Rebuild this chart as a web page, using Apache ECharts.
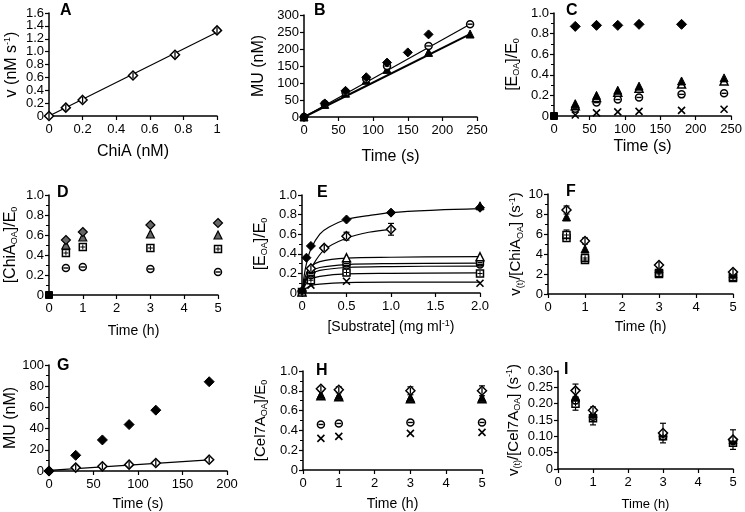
<!DOCTYPE html>
<html><head><meta charset="utf-8">
<script src="https://cdn.jsdelivr.net/npm/echarts@6/dist/echarts.min.js"></script>
<style>html,body{margin:0;padding:0;background:#fff}#c{width:745px;height:512px}</style>
</head><body><div id="c"></div>
<script>
// ---- Panel A ----
const A_x = [0, 0.1, 0.2, 0.5, 0.75, 1];
const A_v = [0, 0.13, 0.25, 0.63, 0.95, 1.33];
const A_err = [0, 0.02, 0.02, 0.03, 0.03, 0.03];
const A_fitX = [0, 1];
const A_fitY = [0, 1.3];
// ---- Panel B ----
const B_t1 = [0, 30, 60, 90, 120, 150, 180];
const B_diamond = [0, 40, 77, 117, 160, 190, 243];
const B_t2 = [0, 30, 60, 90, 120, 180, 240];
const B_circle = [0, 38, 73, 112, 150, 209, 273];
const B_tri = [0, 37, 70, 108, 140, 190, 244];
const B_fitX = [0, 240];
const B_fitCircle = [0, 273];
const B_fitTri = [0, 244];
// ---- Panel C ----
const C_t1 = [30, 60, 90, 120, 180];
const C_diamond = [0.87, 0.88, 0.88, 0.89, 0.89];
const C_t2 = [30, 60, 90, 120, 180, 240];
const C_triF = [0.12, 0.20, 0.25, 0.29, 0.34, 0.37];
const C_triO = [0.10, 0.18, 0.23, 0.27, 0.31, 0.34];
const C_circle = [0.07, 0.13, 0.16, 0.18, 0.21, 0.22];
const C_cross = [0.01, 0.03, 0.04, 0.045, 0.055, 0.065];
const C_origin = [0];
// ---- Panel D ----
const D_t = [0.5, 1, 3, 5];
const D_diamond = [0.55, 0.63, 0.70, 0.72];
const D_tri = [0.50, 0.58, 0.61, 0.60];
const D_square = [0.42, 0.48, 0.47, 0.46];
const D_circle = [0.27, 0.28, 0.26, 0.23];
// ---- Panel E ----
const E_fdX = [0, 0.05, 0.1, 0.5, 1.0, 2.0];
const E_fd = [0.02, 0.36, 0.48, 0.75, 0.82, 0.87];
const E_ftX = [2.0];
const E_ft = [0.89];
const E_odX = [0.1, 0.25, 0.5, 1.0];
const E_od = [0.25, 0.46, 0.58, 0.65];
const E_odErr = [0.02, 0.02, 0.04, 0.06];
const E_lowX = [0, 0.1, 0.5, 2.0];
const E_tri = [0.01, 0.25, 0.36, 0.37];
const E_circle = [0.01, 0.20, 0.30, 0.31];
const E_circle2 = [0.01, 0.18, 0.28, 0.29];
const E_square = [0.01, 0.13, 0.21, 0.20];
const E_cross = [0.01, 0.08, 0.12, 0.10];
const E_fitTopX = [0, 0.025, 0.05, 0.1, 0.2, 0.3, 0.5, 0.75, 1.0, 1.5, 2.0];
const E_fitTop = [0, 0.18, 0.30, 0.45, 0.60, 0.67, 0.75, 0.79, 0.82, 0.845, 0.86];
const E_fitOdX = [0, 0.05, 0.1, 0.25, 0.5, 0.75, 1.0];
const E_fitOd = [0, 0.14, 0.25, 0.44, 0.56, 0.62, 0.65];
const E_fitLowX = [0, 0.025, 0.05, 0.1, 0.2, 0.5, 1.0, 2.0];
const E_fitL1 = [0, 0.12, 0.20, 0.27, 0.32, 0.355, 0.365, 0.372];
const E_fitL2 = [0, 0.10, 0.16, 0.22, 0.26, 0.29, 0.30, 0.305];
const E_fitL3 = [0, 0.09, 0.14, 0.19, 0.23, 0.26, 0.27, 0.275];
const E_fitL4 = [0, 0.06, 0.10, 0.14, 0.17, 0.195, 0.20, 0.205];
const E_fitL5 = [0, 0.03, 0.05, 0.075, 0.09, 0.105, 0.11, 0.11];
// ---- Panel F ----
const F_t = [0.5, 1, 3, 5];
const F_diamond = [8.4, 5.3, 2.9, 2.2];
const F_diamondErr = [0.4, 0.3, 0.2, 0.2];
const F_tri = [7.7, 4.5, 2.5, 2.0];
const F_square = [5.9, 3.6, 2.1, 1.7];
const F_squareErr = [0.5, 0.2, 0.2, 0.2];
const F_circle = [5.6, 3.4, 2.0, 1.6];
// ---- Panel G ----
const G_tF = [0, 30, 60, 90, 120, 180];
const G_filled = [0, 14.8, 29.3, 43.8, 57.4, 84.2];
const G_tO = [0, 30, 60, 90, 120, 180];
const G_open = [0, 3.2, 4.4, 6.0, 7.6, 10.7];
const G_fitX = [0, 180];
const G_fitY = [0.5, 10.5];
// ---- Panel H ----
const H_t = [0.5, 1, 3, 5];
const H_diamond = [0.82, 0.81, 0.80, 0.80];
const H_diamondErr = [0.02, 0.03, 0.04, 0.05];
const H_triF = [0.76, 0.75, 0.73, 0.73];
const H_triO = [0.75, 0.74, 0.72, 0.72];
const H_circle = [0.46, 0.47, 0.48, 0.48];
const H_cross = [0.32, 0.34, 0.37, 0.38];
// ---- Panel I ----
const I_t = [0.5, 1, 3, 5];
const I_diamond = [0.24, 0.18, 0.11, 0.09];
const I_diamondErr = [0.02, 0.01, 0.03, 0.03];
const I_tri = [0.22, 0.17, 0.11, 0.09];
const I_circle = [0.21, 0.16, 0.10, 0.085];
const I_square = [0.20, 0.155, 0.10, 0.08];
const I_squareErr = [0.02, 0.02, 0.01, 0.01];

const FONT = 'Liberation Sans, Arial, sans-serif';
const zip = (xs, ys) => xs.map((x, i) => [x, ys[i]]);
const zip3 = (xs, ys, es) => xs.map((x, i) => [x, ys[i], es[i]]);

const grids = [
  {left: 49, top: 13, width: 168, height: 103},   // A
  {left: 304, top: 15, width: 173, height: 102},  // B
  {left: 554, top: 13, width: 178, height: 103},  // C
  {left: 49, top: 195, width: 169, height: 100},  // D
  {left: 302, top: 195, width: 178, height: 98},  // E
  {left: 548, top: 194, width: 185, height: 100}, // F
  {left: 49, top: 365, width: 178, height: 106},  // G
  {left: 303, top: 371, width: 179, height: 99},  // H
  {left: 558, top: 371, width: 175, height: 98}   // I
];

const rich = {
  n: {fontSize: 15, fontFamily: FONT, color: '#000'},
  sub: {fontSize: 9, fontFamily: FONT, color: '#000', verticalAlign: 'bottom', padding: [8, 0, 0, 0]},
  sup: {fontSize: 9, fontFamily: FONT, color: '#000', verticalAlign: 'top', padding: [0, 0, 8, 0]}
};
const f1 = v => v === 0 ? '0' : v.toFixed(1);
const f2 = v => v === 0 ? '0' : v.toFixed(2);
const fd = v => String(v);

function xAx(i, min, max, interval, name, gap, fmt, nameSize, labelSize) {
  return {
    type: 'value', gridIndex: i, min, max, interval,
    name, nameLocation: 'middle', nameGap: gap,
    nameTextStyle: {fontSize: nameSize, fontFamily: FONT, color: '#000', rich: Object.assign({}, rich, {n: {fontSize: nameSize, fontFamily: FONT, color: '#000'}})},
    axisLine: {show: true, onZero: false, lineStyle: {color: '#000', width: 1.5}},
    axisTick: {show: true, length: 4, lineStyle: {color: '#000', width: 1.2}},
    axisLabel: {color: '#000', fontSize: labelSize, fontFamily: FONT, margin: 7, formatter: fmt},
    splitLine: {show: false}
  };
}
function yAx(i, min, max, interval, name, gap, fmt, minorN, nameSize, labelSize) {
  return {
    type: 'value', gridIndex: i, min, max, interval,
    name, nameLocation: 'middle', nameGap: gap, nameRotate: 90,
    nameTextStyle: {fontSize: nameSize, fontFamily: FONT, color: '#000', rich: Object.assign({}, rich, {n: {fontSize: nameSize, fontFamily: FONT, color: '#000'}})},
    axisLine: {show: true, onZero: false, lineStyle: {color: '#000', width: 1.5}},
    axisTick: {show: true, length: 4, lineStyle: {color: '#000', width: 1.2}},
    minorTick: {show: minorN > 0, splitNumber: minorN || 2, length: 3, lineStyle: {color: '#000', width: 1}},
    axisLabel: {color: '#000', fontSize: labelSize, fontFamily: FONT, margin: 5, formatter: fmt},
    splitLine: {show: false}
  };
}

const xAxes = [
  xAx(0, 0, 1, 0.2, '{n|ChiA (nM)}', 28, fd, 16, 13),
  xAx(1, 0, 250, 50, '{n|Time (s)}', 32, fd, 16, 13),
  xAx(2, 0, 250, 50, '{n|Time (s)}', 23, fd, 16, 13),
  xAx(3, 0, 5, 1, '{n|Time (h)}', 29, fd, 14, 13),
  xAx(4, 0, 2, 0.5, '{n|[Substrate] (mg ml}{sup|-1}{n|)}', 26, f1, 14, 13),
  xAx(5, 0, 5, 1, '{n|Time (h)}', 26, fd, 14, 13),
  xAx(6, 0, 200, 50, '{n|Time (s)}', 26, fd, 14, 13),
  xAx(7, 0, 5, 1, '{n|Time (h)}', 27, fd, 14, 13),
  xAx(8, 0, 5, 1, '{n|Time (h)}', 29, fd, 13, 13)
];
const yAxes = [
  yAx(0, 0, 1.6, 0.2, '{n|v (nM s}{sup|-1}{n|)}', 29, f1, 0, 16, 13),
  yAx(1, 0, 300, 50, '{n|MU (nM)}', 37, fd, 0, 16, 13),
  yAx(2, 0, 1, 0.2, '{n|[E}{sub|OA}{n|]/E}{sub|0}', 33, f1, 2, 16, 13),
  yAx(3, 0, 1, 0.2, '{n|[ChiA}{sub|OA}{n|]/E}{sub|0}', 30, f1, 2, 16, 13),
  yAx(4, 0, 1, 0.2, '{n|[E}{sub|OA}{n|]/E}{sub|0}', 33, f1, 2, 16, 13),
  yAx(5, 0, 10, 2, '{n|v}{sub|(t)}{n|/[ChiA}{sub|OA}{n|] (s}{sup|-1}{n|)}', 21, fd, 2, 15, 13),
  yAx(6, 0, 100, 20, '{n|MU (nM)}', 29, fd, 2, 16, 13),
  yAx(7, 0, 1, 0.2, '{n|[Cel7A}{sub|OA}{n|]/E}{sub|0}', 34, f1, 2, 15, 13),
  yAx(8, 0, 0.3, 0.05, '{n|v}{sub|(t)}{n|/[Cel7A}{sub|OA}{n|] (s}{sup|-1}{n|)}', 36, f2, 0, 15, 13)
];

// marker definitions
const CROSS = 'path://M0,0L10,10M10,0L0,10';
const BAR = 'path://M0,0L10,0L10,2L0,2Z';
const PLUS = 'path://M4,0L6,0L6,4L10,4L10,6L6,6L6,10L4,10L4,6L0,6L0,4L4,4Z';
const series = [];
function pts(g, xs, ys, kind, size) {
  size = size || 8;
  const data = zip(xs, ys);
  const base = {type: 'scatter', xAxisIndex: g, yAxisIndex: g, data, symbolSize: size, z: 3, silent: true};
  const filled = {color: '#000', borderColor: '#000', borderWidth: 1, opacity: 1};
  const open = {color: '#fff', borderColor: '#000', borderWidth: 1.5, opacity: 1};
  const grey = {color: '#666', borderColor: '#000', borderWidth: 1.2, opacity: 1};
  const blk = {color: '#000', opacity: 1};
  if (kind === 'fd') series.push(Object.assign({}, base, {symbol: 'diamond', symbolSize: size + 1, itemStyle: filled}));
  if (kind === 'gd') series.push(Object.assign({}, base, {symbol: 'diamond', symbolSize: size + 1, itemStyle: grey}));
  if (kind === 'od') {
    series.push(Object.assign({}, base, {symbol: 'diamond', symbolSize: size + 1, itemStyle: open}));
    series.push(Object.assign({}, base, {symbol: BAR, symbolSize: [1.3, size - 2], z: 4, itemStyle: blk}));
  }
  if (kind === 'ft') series.push(Object.assign({}, base, {symbol: 'triangle', itemStyle: filled}));
  if (kind === 'gt') series.push(Object.assign({}, base, {symbol: 'triangle', itemStyle: grey}));
  if (kind === 'ot') series.push(Object.assign({}, base, {symbol: 'triangle', itemStyle: open}));
  if (kind === 'oc') {
    series.push(Object.assign({}, base, {symbol: 'circle', symbolSize: size - 1, itemStyle: open}));
    series.push(Object.assign({}, base, {symbol: BAR, symbolSize: [size - 3, 1.4], z: 4, itemStyle: blk}));
  }
  if (kind === 'os') {
    series.push(Object.assign({}, base, {symbol: 'rect', symbolSize: size - 1, itemStyle: open}));
    series.push(Object.assign({}, base, {symbol: PLUS, symbolSize: size - 3, z: 4, itemStyle: blk}));
  }
  if (kind === 'fs') series.push(Object.assign({}, base, {symbol: 'rect', symbolSize: size - 1, itemStyle: filled}));
  if (kind === 'x') series.push(Object.assign({}, base, {symbol: CROSS, symbolSize: size - 1, itemStyle: {color: 'none', borderColor: '#000', borderWidth: 1.6, opacity: 1}}));
}
function fit(g, xs, ys, w, smooth) {
  series.push({type: 'line', xAxisIndex: g, yAxisIndex: g, data: zip(xs, ys), showSymbol: false, symbol: 'none',
    smooth: smooth ? 0.35 : false, lineStyle: {color: '#000', width: w || 1.2}, z: 2, silent: true});
}
function err(g, xs, ys, es) {
  series.push({type: 'custom', xAxisIndex: g, yAxisIndex: g, data: zip3(xs, ys, es), z: 2, silent: true,
    renderItem: function (params, api) {
      const x = api.value(0), y = api.value(1), e = api.value(2);
      const t = api.coord([x, y + e]), b = api.coord([x, y - e]);
      const st = {stroke: '#000', lineWidth: 1.2};
      return {type: 'group', children: [
        {type: 'line', shape: {x1: t[0], y1: t[1], x2: b[0], y2: b[1]}, style: st},
        {type: 'line', shape: {x1: t[0] - 3, y1: t[1], x2: t[0] + 3, y2: t[1]}, style: st},
        {type: 'line', shape: {x1: b[0] - 3, y1: b[1], x2: b[0] + 3, y2: b[1]}, style: st}
      ]};
    }});
}

// A
fit(0, A_fitX, A_fitY, 1.2);
err(0, A_x, A_v, A_err);
pts(0, A_x, A_v, 'od');
// B
fit(1, B_fitX, B_fitCircle, 1.2);
fit(1, B_fitX, B_fitTri, 2);
pts(1, B_t2, B_tri, 'ft');
pts(1, B_t2, B_circle, 'oc');
pts(1, B_t1, B_diamond, 'fd');
// C
pts(2, C_origin, C_origin, 'fs');
pts(2, C_t2, C_cross, 'x');
pts(2, C_t2, C_circle, 'oc');
pts(2, C_t2, C_triO, 'ot');
pts(2, C_t2, C_triF, 'ft');
pts(2, C_t1, C_diamond, 'fd', 9);
// D
pts(3, C_origin, C_origin, 'fs');
pts(3, D_t, D_circle, 'oc');
pts(3, D_t, D_square, 'os');
pts(3, D_t, D_tri, 'gt');
pts(3, D_t, D_diamond, 'gd');
// E
fit(4, E_fitTopX, E_fitTop, 1.2, true);
fit(4, E_fitOdX, E_fitOd, 1.2, true);
fit(4, E_fitLowX, E_fitL1, 1.2, true);
fit(4, E_fitLowX, E_fitL2, 1.2, true);
fit(4, E_fitLowX, E_fitL3, 1.2, true);
fit(4, E_fitLowX, E_fitL4, 1.2, true);
fit(4, E_fitLowX, E_fitL5, 1.2, true);
err(4, E_odX, E_od, E_odErr);
pts(4, E_lowX, E_cross, 'x');
pts(4, E_lowX, E_square, 'os');
pts(4, E_lowX, E_circle2, 'oc');
pts(4, E_lowX, E_circle, 'oc');
pts(4, E_lowX, E_tri, 'ot');
pts(4, E_odX, E_od, 'od');
pts(4, E_fdX, E_fd, 'fd');
pts(4, E_ftX, E_ft, 'ft');
// F
err(5, F_t, F_diamond, F_diamondErr);
err(5, F_t, F_square, F_squareErr);
pts(5, F_t, F_circle, 'os');
pts(5, F_t, F_square, 'os');
pts(5, F_t, F_tri, 'ft');
pts(5, F_t, F_diamond, 'od');
// G
fit(6, G_fitX, G_fitY, 1.2);
pts(6, G_tO, G_open, 'od');
pts(6, G_tF, G_filled, 'fd', 9);
// H
err(7, H_t, H_diamond, H_diamondErr);
pts(7, H_t, H_cross, 'x');
pts(7, H_t, H_circle, 'oc');
pts(7, H_t, H_triO, 'ot');
pts(7, H_t, H_triF, 'ft');
pts(7, H_t, H_diamond, 'od');
// I
err(8, I_t, I_diamond, I_diamondErr);
err(8, I_t, I_square, I_squareErr);
pts(8, I_t, I_square, 'os');
pts(8, I_t, I_circle, 'oc');
pts(8, I_t, I_tri, 'ft');
pts(8, I_t, I_diamond, 'od');

const letters = [['A', 60, 3], ['B', 314, 3], ['C', 566, 3], ['D', 57, 185], ['E', 317, 185], ['F', 566, 184], ['G', 57, 358], ['H', 316, 363], ['I', 564, 362]];
const graphic = letters.map(l => ({type: 'text', left: l[1], top: l[2], silent: true,
  style: {text: l[0], font: 'bold 16px ' + FONT, fill: '#000'}}));

const chart = echarts.init(document.getElementById('c'), null, {renderer: 'canvas'});
chart.setOption({
  animation: false,
  backgroundColor: '#fff',
  textStyle: {fontFamily: FONT},
  grid: grids,
  xAxis: xAxes,
  yAxis: yAxes,
  series,
  graphic
});
</script></body></html>
